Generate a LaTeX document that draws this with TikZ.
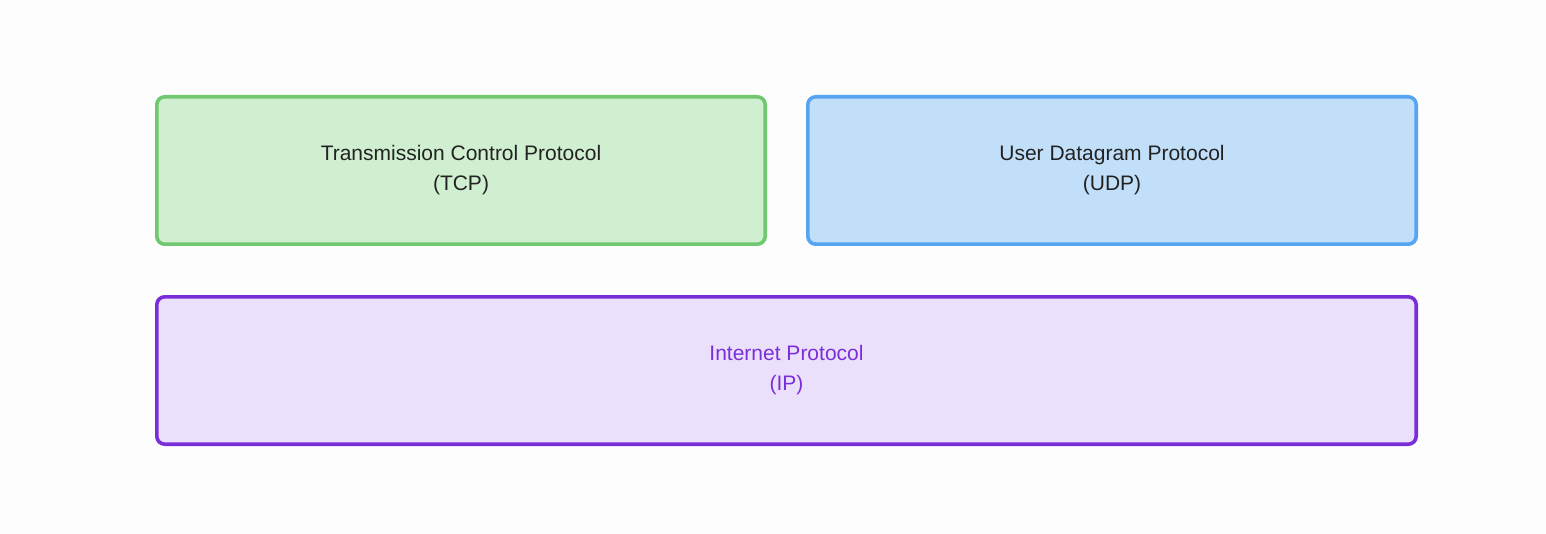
\documentclass[tikz,border=0pt]{standalone}
\usepackage{fontspec}
\setmainfont{Liberation Sans}
\definecolor{cbackground}{RGB}{253,253,253}
\definecolor{ctcpline}{RGB}{112,200,112}
\definecolor{ctcpfill}{RGB}{208,239,208}
\definecolor{cudpline}{RGB}{86,164,242}
\definecolor{cudpfill}{RGB}{194,223,250}
\definecolor{cipline}{RGB}{122,46,216}
\definecolor{cipfill}{RGB}{235,224,251}
\definecolor{ctext}{RGB}{34,34,34}
\def \globalscale {1.000000}

\begin{document}
\begin{tikzpicture}[y=-0.5pt, x=0.5pt, yscale=\globalscale,xscale=\globalscale, every node/.append style={scale=\globalscale}, inner sep=0pt, outer sep=0pt,
  layerbox/.style={rectangle, rounded corners=4pt, line width=1.8pt, align=center, font=\fontsize{10.5}{15}\selectfont, minimum height=73.7pt}]
  \path[fill=cbackground] (0, 0) rectangle (1546, 534);

  \node[layerbox,draw=ctcpline,fill=ctcpfill,text=ctext,minimum width=304.2pt] (tcp) at (461, 170.5){Transmission Control Protocol\\(TCP)};

  \node[layerbox,draw=cudpline,fill=cudpfill,text=ctext,minimum width=304.2pt] (udp) at (1112, 170.5){User Datagram Protocol\\(UDP)};

  \node[layerbox,draw=cipline,fill=cipfill,text=cipline,minimum width=629.7pt] (ip) at (786.5, 370.5){Internet Protocol\\(IP)};

\end{tikzpicture}
\end{document}
